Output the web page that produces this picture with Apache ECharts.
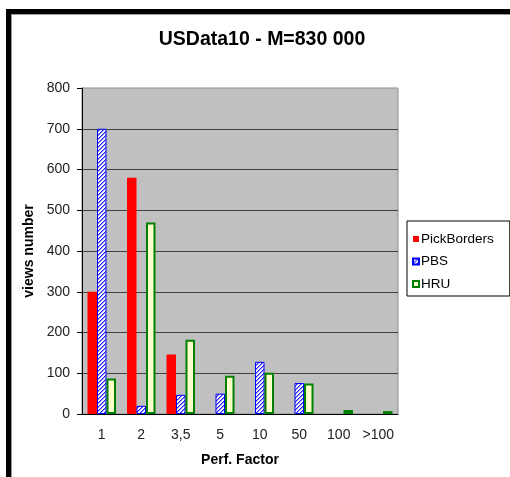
<!DOCTYPE html>
<html>
<head>
<meta charset="utf-8">
<script src="https://cdn.jsdelivr.net/npm/echarts@6/dist/echarts.min.js"></script>
<style>
html,body{margin:0;padding:0;background:#fff;}
#chart{width:510px;height:477px;}
</style>
</head>
<body>
<div id="chart"></div>
<script>
const categories = ['1', '2', '3,5', '5', '10', '50', '100', '>100'];
const pickBorders = [300, 580, 146, null, null, null, null, null];
const pbs = [700, 20, 47, 50, 128, 76, null, null];
const hru = [87, 470, 182, 94, 101, 75, 10, 7];
const yTicks = [0, 100, 200, 300, 400, 500, 600, 700, 800];
const titleText = 'USData10 - M=830 000';

function hatch() {
  const c = document.createElement('canvas');
  c.width = 4; c.height = 4;
  const g = c.getContext('2d');
  g.fillStyle = '#ffffff';
  g.fillRect(0, 0, 4, 4);
  for (let x = 0; x < 4; x++) {
    for (let y = 0; y < 4; y++) {
      const k = (x + y) % 4;
      if (k === 0) { g.fillStyle = '#2020ff'; g.fillRect(x, y, 1, 1); }
      else if (k === 1) { g.fillStyle = '#9090ff'; g.fillRect(x, y, 1, 1); }
    }
  }
  return c;
}

const chart = echarts.init(document.getElementById('chart'), null, {renderer: 'canvas'});
const font = 'Liberation Sans, Arial, sans-serif';
const splitColors = yTicks.map((v, i) => i === yTicks.length - 1 ? '#a8a8a8' : '#404040');

chart.setOption({
  backgroundColor: '#ffffff',
  animation: false,
  textStyle: {fontFamily: font},
  grid: {
    left: 82, top: 88, width: 316, height: 326,
    show: true, backgroundColor: '#c0c0c0', borderColor: '#8c8c8c', borderWidth: 1
  },
  legend: {
    orient: 'vertical',
    left: 407, top: 221,
    padding: [11, 16, 5, 5],
    itemGap: 8.5,
    itemWidth: 6, itemHeight: 6,
    icon: 'rect',
    borderColor: '#000', borderWidth: 1,
    textStyle: {fontFamily: font, fontSize: 13.5, color: '#000', padding: [0, 0, 0, -3]},
    data: ['PickBorders', 'PBS', 'HRU']
  },
  xAxis: {
    type: 'category',
    data: categories,
    axisLine: {lineStyle: {color: '#000', width: 1}},
    axisTick: {length: 5, lineStyle: {color: '#000'}},
    axisLabel: {color: '#222', fontSize: 14, margin: 14, fontFamily: font, interval: 0},
    name: 'Perf. Factor',
    nameLocation: 'middle',
    nameGap: 39,
    nameTextStyle: {fontWeight: 'bold', fontSize: 14, color: '#000', fontFamily: font}
  },
  yAxis: {
    type: 'value',
    min: 0, max: 800, interval: 100,
    axisLine: {show: true, lineStyle: {color: '#000', width: 1}},
    axisTick: {show: true, length: 5, lineStyle: {color: '#000'}},
    axisLabel: {color: '#222', fontSize: 14, margin: 12, fontFamily: font},
    splitLine: {show: true, lineStyle: {color: splitColors, width: 1}},
    name: 'views number',
    nameLocation: 'middle',
    nameGap: 38,
    nameTextStyle: {fontWeight: 'bold', fontSize: 14, color: '#000', fontFamily: font}
  },
  series: [
    {
      name: 'PickBorders', type: 'bar', data: pickBorders,
      barWidth: 9.5, barGap: '0%',
      itemStyle: {color: '#ff0000', borderWidth: 0}
    },
    {
      name: 'PBS', type: 'bar', data: pbs,
      barWidth: 9.5, barGap: '0%',
      itemStyle: {color: {image: hatch(), repeat: 'repeat'}, borderColor: '#0000ff', borderWidth: 1}
    },
    {
      name: 'HRU', type: 'bar', data: hru,
      barWidth: 9.5, barGap: '0%',
      itemStyle: {color: '#ffffcc', borderColor: '#008000', borderWidth: 2}
    }
  ],
  graphic: [
    {type: 'rect', shape: {x: 6, y: 9, width: 5, height: 470}, style: {fill: '#000'}, silent: true},
    {type: 'rect', shape: {x: 6, y: 9, width: 510, height: 5}, style: {fill: '#000'}, silent: true},
    {type: 'line', shape: {x1: 11.5, y1: 14, x2: 11.5, y2: 477}, style: {stroke: '#9a9a9a', lineWidth: 1}, silent: true},
    {type: 'line', shape: {x1: 11, y1: 14.5, x2: 510, y2: 14.5}, style: {stroke: '#9a9a9a', lineWidth: 1}, silent: true},
    {type: 'text', x: 262, y: 40, style: {text: titleText, fill: '#000', font: 'bold 19.5px ' + font, textAlign: 'center', textVerticalAlign: 'middle'}}
  ]
});
</script>
</body>
</html>
